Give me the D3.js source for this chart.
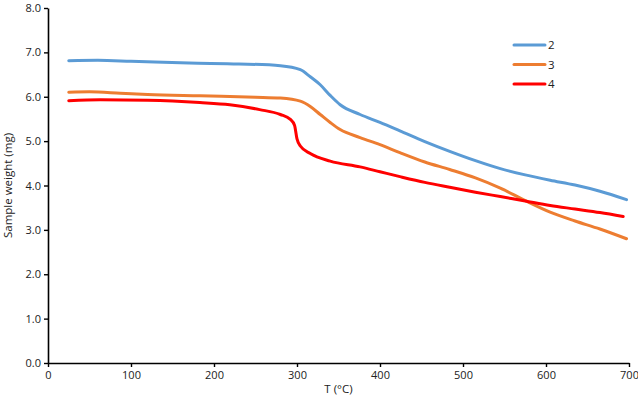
<!DOCTYPE html>
<html>
<head>
<meta charset="utf-8">
<script src="https://cdn.jsdelivr.net/npm/d3@7"></script>
<style>
  body { margin: 0; background: #fff; }
  svg { display: block; font-family: "Open Sans", sans-serif; }
</style>
</head>
<body>
<div id="chart"></div>
<script>
var width = 638, height = 401;
// margins so that the plot area matches the original picture
var margin = {top: 8, right: 9, bottom: 38, left: 48};

// temperature (°C) / weight (mg)
var t2 = [25, 60, 100, 170, 230, 280, 304, 316, 328, 340, 352, 376, 400, 424, 454, 484, 515, 545, 575, 605, 635, 665, 697];
var w2 = [6.81, 6.82, 6.80, 6.76, 6.74, 6.70, 6.61, 6.45, 6.27, 6.03, 5.82, 5.60, 5.42, 5.23, 4.99, 4.77, 4.56, 4.38, 4.24, 4.12, 4.01, 3.87, 3.68];

var t3 = [25, 50, 87, 120, 183, 250, 280, 304, 316, 328, 340, 352, 376, 400, 424, 454, 484, 515, 545, 575, 605, 635, 665, 697];
var w3 = [6.10, 6.11, 6.08, 6.05, 6.02, 5.99, 5.97, 5.90, 5.78, 5.60, 5.42, 5.26, 5.08, 4.92, 4.74, 4.53, 4.36, 4.17, 3.94, 3.66, 3.40, 3.20, 3.02, 2.80];

var t4 = [25, 63, 120, 183, 219, 255, 280, 292, 297, 300, 304, 316, 340, 376, 400, 424, 454, 484, 515, 545, 575, 605, 635, 665, 693];
var w4 = [5.91, 5.93, 5.92, 5.87, 5.82, 5.71, 5.60, 5.49, 5.36, 5.05, 4.89, 4.72, 4.55, 4.42, 4.31, 4.20, 4.07, 3.96, 3.85, 3.75, 3.65, 3.55, 3.47, 3.39, 3.30];

var seriesNames = ["2", "3", "4"];
var seriesColors = ["#5B9BD5", "#ED7D31", "#FF0000"];
var xTicks = [0, 100, 200, 300, 400, 500, 600, 700];
var yTicks = [0, 1, 2, 3, 4, 5, 6, 7, 8];

var series = [
    {name: seriesNames[0], color: seriesColors[0], pts: d3.zip(t2, w2)},
    {name: seriesNames[1], color: seriesColors[1], pts: d3.zip(t3, w3)},
    {name: seriesNames[2], color: seriesColors[2], pts: d3.zip(t4, w4)}
];

var svg = d3.select("#chart")
    .append("svg")
        .attr("width", width)
        .attr("height", height);

var x = d3.scaleLinear().domain([0, 700]).range([margin.left, width - margin.right]);
var y = d3.scaleLinear().domain([0, 8]).range([height - margin.bottom, margin.top]);

// y axis
var yAxis = svg.append("g")
    .attr("transform", "translate(" + margin.left + ",0)")
    .call(d3.axisLeft(y).tickValues(yTicks).tickSize(4).tickSizeOuter(0).tickFormat(d3.format(".1f")));

// x axis
var xAxis = svg.append("g")
    .attr("transform", "translate(0," + (height - margin.bottom) + ")")
    .call(d3.axisBottom(x).tickValues(xTicks).tickSize(4).tickSizeOuter(0));

[xAxis, yAxis].forEach(function(a) {
    a.select(".domain").attr("stroke", "#000").attr("stroke-width", 1.6);
    a.selectAll(".tick line").attr("stroke", "#000").attr("stroke-width", 1.4);
    a.selectAll(".tick text").attr("fill", "#222").style("font-size", "11px").style("font-family", "Open Sans, sans-serif");
});
yAxis.selectAll(".tick text").attr("x", -7);
xAxis.selectAll(".tick text").attr("y", 8);

// axis titles
svg.append("text")
    .attr("x", x(350))
    .attr("y", 393)
    .attr("text-anchor", "middle")
    .attr("fill", "#222")
    .style("font-size", "11.5px")
    .text("T (°C)");

svg.append("text")
    .attr("transform", "translate(12," + y(4) + ") rotate(-90)")
    .attr("text-anchor", "middle")
    .attr("fill", "#222")
    .style("font-size", "11.5px")
    .text("Sample weight (mg)");

var line = d3.line()
    .x(function(d) { return x(d[0]); })
    .y(function(d) { return y(d[1]); })
    .curve(d3.curveMonotoneX);

svg.selectAll("path.series")
    .data(series)
    .join("path")
    .attr("class", "series")
    .attr("fill", "none")
    .attr("stroke", function(d) { return d.color; })
    .attr("stroke-width", 3)
    .attr("stroke-linecap", "round")
    .attr("d", function(d) { return line(d.pts); });

// legend
var legend = svg.append("g").attr("transform", "translate(514,45)");
series.forEach(function(s, i) {
    legend.append("line")
        .attr("x1", 0).attr("x2", 31)
        .attr("y1", i * 19.5).attr("y2", i * 19.5)
        .attr("stroke", s.color)
        .attr("stroke-width", 3)
        .attr("stroke-linecap", "round");
    legend.append("text")
        .attr("x", 34)
        .attr("y", i * 19.5 + 4)
        .attr("fill", "#222")
        .style("font-size", "11.5px")
        .text(s.name);
});
</script>
</body>
</html>
